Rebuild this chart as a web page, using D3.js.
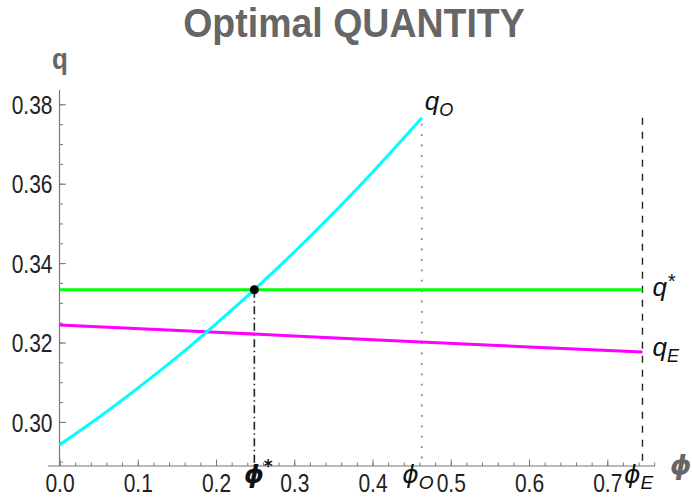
<!DOCTYPE html>
<html>
<head>
<meta charset="utf-8">
<script src="https://cdn.jsdelivr.net/npm/d3@7"></script>
<style>
  html, body { margin: 0; padding: 0; background: #fff; }
  svg { display: block; }
</style>
</head>
<body>
<svg id="chart" width="692" height="499"></svg>
<script>
// ---------- data ----------
const xTickValues = [0, 0.1, 0.2, 0.3, 0.4, 0.5, 0.6, 0.7];
const xTickLabels = ["0.0", "0.1", "0.2", "0.3", "0.4", "0.5", "0.6", "0.7"];
const yTickValues = [0.30, 0.32, 0.34, 0.36, 0.38];
const yTickLabels = ["0.30", "0.32", "0.34", "0.36", "0.38"];

// q_O curve (cyan)
const phiO_pts = [0, 0.05, 0.10, 0.15, 0.20, 0.25, 0.30, 0.35, 0.40, 0.45, 0.463];
const qO_vals  = [0.2942, 0.3011, 0.3085, 0.3163, 0.3247, 0.3335, 0.3428, 0.3526, 0.3629, 0.3737, 0.3766];
// q_E curve (magenta)
const phiE_pts = [0, 0.2, 0.4, 0.6, 0.745];
const qE_vals  = [0.3244, 0.3226, 0.3207, 0.3189, 0.3176];
// q* (green, flat)
const phiStar_pts = [0, 0.745];
const qStar_vals  = [0.3333, 0.3333];

// special phi values
const phiStar = 0.249, qStar = 0.3333;
const phiO = 0.463, phiE = 0.745;
const vlineTop = 0.3766;

// ---------- layout ----------
const svg = d3.select("#chart");
const x = d3.scaleLinear().domain([0, 0.761]).range([59.5, 655]);
const y = d3.scaleLinear().domain([0.2889, 0.3836]).range([466, 90]);

const axisColor = "#777";
const font = "'Liberation Sans', Arial, sans-serif";
const stretch = 1.2;

// title
svg.append("text").attr("x", 354).attr("y", 0).attr("text-anchor", "middle")
  .attr("transform", `translate(0,37) scale(1,1.1)`)
  .attr("font-family", font).attr("font-weight", "bold").attr("font-size", 37.5)
  .attr("fill", "#666").text("Optimal QUANTITY");

// y axis label
svg.append("text").attr("x", 60).attr("y", 0).attr("text-anchor", "middle")
  .attr("transform", `translate(0,69) scale(1,1.15)`)
  .attr("font-family", font).attr("font-weight", "bold").attr("font-size", 26)
  .attr("fill", "#666").text("q");

// x axis label
svg.append("text").attr("x", 670).attr("y", 474)
  .attr("font-family", "'DejaVu Sans', sans-serif").attr("font-weight", "bold").attr("font-style", "italic")
  .attr("font-size", 27).attr("fill", "#666").text("ϕ");

// axes
const xMinor = d3.range(0, 0.761, 0.02);
const yMinor = d3.range(0.29, 0.3836, 0.005);

const gx = svg.append("g").attr("transform", `translate(0,${y(0.2889)})`);
gx.call(d3.axisBottom(x).tickValues(xMinor).tickSize(-3.5).tickFormat(""));
const gxMaj = svg.append("g").attr("transform", `translate(0,${y(0.2889)})`)
  .call(d3.axisBottom(x).tickValues(xTickValues).tickSize(-6.5).tickSizeOuter(0)
    .tickFormat((d, i) => xTickLabels[i]));
gxMaj.selectAll("text").attr("y", 6.7).attr("transform", `scale(1,${stretch})`)
  .attr("font-family", font).attr("font-size", 21).attr("fill", "#222");

const gy = svg.append("g").attr("transform", `translate(${x(0)},0)`);
gy.call(d3.axisLeft(y).tickValues(yMinor).tickSize(-3.5).tickFormat(""));
const gyMaj = svg.append("g").attr("transform", `translate(${x(0)},0)`)
  .call(d3.axisLeft(y).tickValues(yTickValues).tickSize(-6.5).tickSizeOuter(0)
    .tickFormat((d, i) => yTickLabels[i]));
gyMaj.selectAll("text").attr("x", -7).attr("dy", "0.36em").attr("transform", `scale(1,${stretch})`)
  .attr("font-family", font).attr("font-size", 21).attr("fill", "#222");

[gx, gy, gxMaj, gyMaj].forEach(g => {
  g.selectAll(".domain").remove();
  g.selectAll("line").attr("stroke", axisColor).attr("stroke-width", 1);
});
// axis lines
svg.append("line").attr("x1", 48).attr("x2", x(0.761)).attr("y1", y(0.2889)).attr("y2", y(0.2889))
  .attr("stroke", axisColor).attr("stroke-width", 1.2);
svg.append("line").attr("x1", x(0)).attr("x2", x(0)).attr("y1", y(0.2889)).attr("y2", y(0.3836))
  .attr("stroke", axisColor).attr("stroke-width", 1.2);

// vertical reference lines
svg.append("line").attr("x1", x(phiStar)).attr("x2", x(phiStar)).attr("y1", y(qStar)).attr("y2", y(0.2889))
  .attr("stroke", "#222").attr("stroke-width", 1.6).attr("stroke-dasharray", "8,3.5,1.5,3.5");
svg.append("line").attr("x1", x(phiO)).attr("x2", x(phiO)).attr("y1", y(vlineTop) + 6).attr("y2", y(0.2889))
  .attr("stroke", "#888").attr("stroke-width", 1.8).attr("stroke-dasharray", "1.8,8.6");
svg.append("line").attr("x1", x(phiE)).attr("x2", x(phiE)).attr("y1", y(vlineTop)).attr("y2", y(0.2889))
  .attr("stroke", "#222").attr("stroke-width", 1.4).attr("stroke-dasharray", "7,7");

// curves
const line = d3.line().x(d => x(d[0])).y(d => y(d[1])).curve(d3.curveMonotoneX);
svg.append("path").datum(phiE_pts.map((p, i) => [p, qE_vals[i]]))
  .attr("d", line).attr("fill", "none").attr("stroke", "#FF00FF").attr("stroke-width", 3);
svg.append("path").datum(phiStar_pts.map((p, i) => [p, qStar_vals[i]]))
  .attr("d", line).attr("fill", "none").attr("stroke", "#00FF00").attr("stroke-width", 3);
svg.append("path").datum(phiO_pts.map((p, i) => [p, qO_vals[i]]))
  .attr("d", line).attr("fill", "none").attr("stroke", "#00FFFF").attr("stroke-width", 3);

// intersection point
svg.append("circle").attr("cx", x(phiStar)).attr("cy", y(qStar)).attr("r", 4.5).attr("fill", "#000");

// curve labels
function subLabel(xp, yp, main, sub, sup) {
  const t = svg.append("text").attr("x", xp).attr("y", yp)
    .attr("font-family", font).attr("font-style", "italic").attr("font-size", 26).attr("fill", "#111");
  t.append("tspan").text(main);
  if (sub) t.append("tspan").attr("font-size", 18).attr("dy", 6).text(sub);
  if (sup) t.append("tspan").attr("font-size", 20).attr("dy", -8).text(sup);
}
subLabel(x(phiO) + 3, y(vlineTop) - 8, "q", "O");
subLabel(x(phiE) + 10, y(qStar) + 6, "q", null, "*");
subLabel(x(phiE) + 10, y(0.3176) + 4, "q", "E");

// special phi tick labels
function phiLabel(xp, sub, sup, bold) {
  const t = svg.append("text").attr("x", xp).attr("y", 483).attr("text-anchor", "middle")
    .attr("font-family", "'DejaVu Sans', sans-serif").attr("font-style", "italic")
    .attr("font-weight", bold ? "bold" : "normal").attr("font-size", 25).attr("fill", "#111");
  t.append("tspan").text("ϕ");
  if (sub) t.append("tspan").attr("font-family", font).attr("font-weight", "normal").attr("font-size", 19).attr("dy", 6).text(sub);
  if (sup) t.append("tspan").attr("font-size", 17).attr("dy", -11).text(sup);
}
phiLabel(x(phiStar) + 4, null, "*", true);
phiLabel(x(phiO) - 4, "O", null, false);
phiLabel(x(phiE) - 4, "E", null, false);
</script>
</body>
</html>
